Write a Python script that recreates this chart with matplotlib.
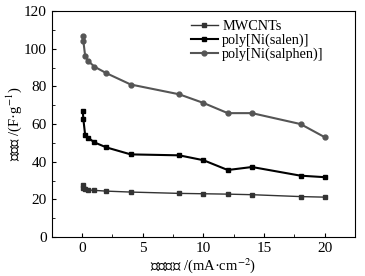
import numpy as np
import matplotlib
matplotlib.use("Agg")
import matplotlib.pyplot as plt
from matplotlib.ticker import MultipleLocator

plt.rcParams['font.family'] = ['Liberation Serif', 'Noto Sans CJK SC']
plt.rcParams['mathtext.fontset'] = 'stix'

current = [0.05, 0.1, 0.25, 0.5, 1, 2, 4, 8, 10, 12, 14, 18, 20]
mwcnts = [27.5, 26.3, 25.3, 25.0, 24.8, 24.4, 23.9, 23.2, 23.0, 22.8, 22.5, 21.5, 21.2]
salen = [67.0, 62.5, 54.0, 52.7, 50.3, 47.6, 43.9, 43.4, 40.8, 35.6, 37.2, 32.6, 31.8]
salphen = [106.7, 104.0, 96.0, 93.5, 90.5, 87.0, 81.0, 75.8, 71.2, 65.8, 65.8, 60.0, 53.0]

fig = plt.figure(figsize=(3.65, 2.76), dpi=100)
ax = fig.add_axes([0.142, 0.141, 0.831, 0.819])

ax.plot(current, mwcnts, color="#333333", lw=1.0, marker="s", ms=3, label="MWCNTs")
ax.plot(current, salen, color="black", lw=1.5, marker="s", ms=3.5, label="poly[Ni(salen)]")
ax.plot(current, salphen, color="#555555", lw=1.5, marker="o", ms=3.5, label="poly[Ni(salphen)]")

ax.set_xlim(-2.5, 22.5)
ax.set_ylim(0, 120)
ax.xaxis.set_major_locator(MultipleLocator(5))
ax.xaxis.set_minor_locator(MultipleLocator(2.5))
ax.yaxis.set_major_locator(MultipleLocator(20))
ax.yaxis.set_minor_locator(MultipleLocator(10))
ax.tick_params(which="both", direction="in", labelsize=11)
ax.tick_params(which="major", length=3)
ax.tick_params(which="minor", length=2)

ax.set_xlabel("电流密度 /(mA·cm$^{-2}$)", fontsize=10.5, labelpad=1)
ax.set_ylabel("比容量 /(F·g$^{-1}$)", fontsize=10.5, labelpad=0)

ax.legend(loc="upper left", frameon=False, fontsize=10.3, handlelength=1.9,
          handletextpad=0.3, labelspacing=0.05, borderaxespad=0.2,
          bbox_to_anchor=(0.43, 1.0))

fig.savefig("out.png", dpi=100)
